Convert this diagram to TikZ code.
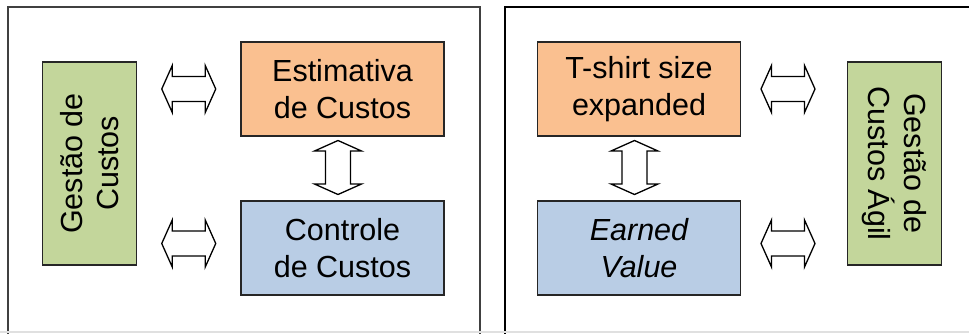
\documentclass[tikz,border=0pt]{standalone}
\usepackage{fontspec}
\setmainfont{Liberation Sans}
\usetikzlibrary{calc}
\definecolor{boxorange}{HTML}{FAC090}
\definecolor{boxblue}{HTML}{B9CDE5}
\definecolor{boxgreen}{HTML}{C3D69B}
\tikzset{
    panel/.style={line width=2pt},
    costbox/.style={draw=black!85, line width=1.8pt, minimum width=203, minimum height=94,
        align=center, inner sep=0pt, font=\fontsize{30.5}{36.6}\selectfont},
    arrowbox/.style={draw=black, line width=1.3pt, fill=white, line join=miter}
}
% hollow double arrow, centred at #2, turned by #1
\newcommand{\blockarrow}[2][0]{%
    \draw[arrowbox, shift={(#2)}, rotate=#1] (-27,0) -- ++(10.5,-23.5) -- ++(0,11) -- ++(33,0)
        -- ++(0,-11) -- ++(10.5,23.5) -- ++(-10.5,23.5) -- ++(0,-11) -- ++(-33,0) -- ++(0,11) -- cycle;
}

\begin{document}
\begin{tikzpicture}[x=1pt, y=-1pt]
    \useasboundingbox (0,0) rectangle (969,333);
    \begin{scope}
    \clip (0,0) rectangle (969,333);
    \draw[panel, draw=black!75] (8,7) rectangle (480,345);
    \draw[panel, draw=black] (505,7) rectangle (985,345);
    \draw[line width=2pt, draw=black!12] (0,332) -- (969,332);
    \end{scope}

    % left side
    \node[costbox, fill=boxgreen, rotate=90] (gestao) at (89.5,163.5) {Gestão de\\Custos};
    \node[costbox, fill=boxorange] (estimativa) at (342.5,89) {Estimativa\\de Custos};
    \node[costbox, fill=boxblue] (controle) at (342.5,248) {Controle\\de Custos};

    \coordinate (a1) at ($(gestao.south|-estimativa)!0.5!(estimativa.west)$);
    \coordinate (a2) at ($(gestao.south|-controle)!0.5!(controle.west)+(0,-4.5)$);
    \coordinate (a3) at (338,167.5);
    \blockarrow{a1}
    \blockarrow{a2}
    \blockarrow[90]{a3}

    % right side
    \node[costbox, fill=boxorange] (tshirt) at (639,89) {T-shirt size\\expanded};
    \node[costbox, fill=boxblue] (earned) at (639,248) {\itshape Earned\\\itshape Value};
    \node[costbox, fill=boxgreen, rotate=-90] (agil) at (894.5,163.5) {Gestão de\\Custos Ágil};

    \coordinate (b1) at ($(tshirt.east)!0.5!(agil.south|-tshirt)+(-6,0)$);
    \coordinate (b2) at ($(earned.east)!0.5!(agil.south|-earned)+(-6,-4.5)$);
    \coordinate (b3) at (634.5,167.5);
    \blockarrow{b1}
    \blockarrow{b2}
    \blockarrow[90]{b3}
\end{tikzpicture}
\end{document}
